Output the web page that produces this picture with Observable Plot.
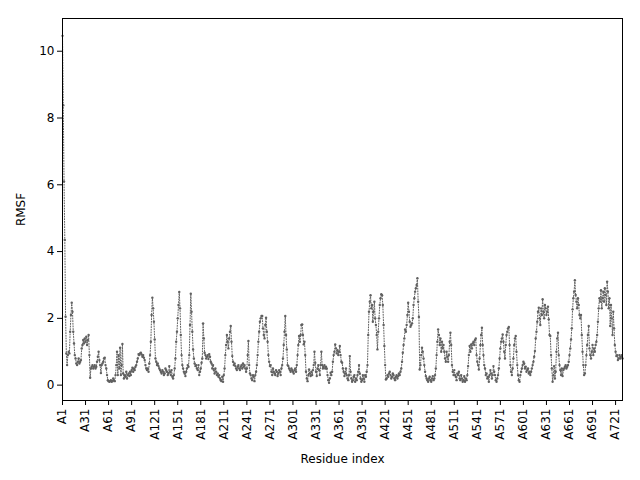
<!DOCTYPE html>
<html>
<head>
<meta charset="utf-8">
<script src="https://cdn.jsdelivr.net/npm/d3@7"></script>
<script src="https://cdn.jsdelivr.net/npm/@observablehq/plot@0.6"></script>
<style>
  html, body { margin: 0; padding: 0; background: white; }
</style>
</head>
<body>
<div id="chart"></div>
<script>
// RMSF per residue (A1 .. A730)
const rmsf = [
  10.46, 8.38, 6.1, 4.35, 2.05, 0.95, 0.6, 0.9, 1.0, 0.95,
  1.6, 2.1, 2.47, 2.2, 1.6, 1.25, 0.9, 0.8, 0.65, 0.6,
  0.7, 0.8, 0.65, 0.7, 0.75, 1.1, 1.2, 1.35, 1.25, 1.4,
  1.3, 1.45, 1.2, 1.35, 1.5, 0.9, 0.22, 0.5, 0.55, 0.6,
  0.5, 0.55, 0.6, 0.5, 0.55, 0.7, 0.85, 1.0, 0.75, 0.6,
  0.36, 0.6, 0.65, 0.7, 0.8, 0.82, 0.6, 0.5, 0.3, 0.15,
  0.12, 0.1, 0.12, 0.15, 0.1, 0.12, 0.2, 0.15, 0.12, 0.3,
  0.6, 1.0, 0.3, 0.9, 0.5, 1.12, 0.3, 0.6, 1.23, 0.35,
  0.2, 0.3, 0.25, 0.4, 0.2, 0.3, 0.35, 0.27, 0.4, 0.3,
  0.45, 0.52, 0.4, 0.5, 0.45, 0.55, 0.6, 0.7, 0.8, 0.93,
  0.9, 0.95, 0.97, 0.92, 0.85, 0.9, 0.82, 0.75, 0.6, 0.5,
  0.45, 0.5, 0.4, 0.65, 0.9, 1.3, 2.1, 2.62, 2.3, 1.9,
  1.37, 0.8, 0.7, 0.6, 0.65, 0.57, 0.5, 0.45, 0.4, 0.35,
  0.45, 0.4, 0.3, 0.35, 0.5, 0.45, 0.4, 0.3, 0.35, 0.57,
  0.4, 0.3, 0.45, 0.25, 0.2, 0.3, 0.5, 0.8, 1.3, 1.6,
  2.0, 2.4, 2.79, 2.3, 1.5, 0.9, 0.6, 0.5, 0.4, 0.35,
  0.27, 0.4, 0.5, 0.6, 0.55, 0.9, 1.8, 2.74, 2.2, 1.6,
  1.07, 0.8, 0.65, 0.57, 0.6, 0.5, 0.45, 0.6, 0.3, 0.4,
  0.5, 0.67, 0.8, 1.85, 1.4, 0.97, 0.9, 0.8, 0.85, 0.9,
  0.78, 0.93, 0.85, 0.7, 0.65, 0.5, 0.6, 0.45, 0.35, 0.5,
  0.4, 0.3, 0.35, 0.25, 0.3, 0.2, 0.15, 0.12, 0.25, 0.1,
  0.3, 0.5, 0.9, 1.2, 1.5, 1.3, 1.1, 1.4, 1.6, 1.77,
  1.3, 0.87, 0.7, 0.6, 0.65, 0.57, 0.5, 0.45, 0.55, 0.6,
  0.5, 0.45, 0.55, 0.6, 0.5, 0.65, 0.55, 0.6, 0.5, 0.4,
  0.5, 0.9, 1.32, 0.6, 0.35, 0.3, 0.2, 0.15, 0.3, 0.25,
  0.12, 0.3, 0.4, 0.6, 0.9, 1.3, 1.6, 1.9, 2.0, 2.07,
  2.07, 1.7, 1.5, 1.4, 1.8, 2.02, 1.6, 1.3, 0.9, 0.7,
  0.57, 0.6, 0.4, 0.3, 0.5, 0.4, 0.35, 0.3, 0.45, 0.4,
  0.27, 0.35, 0.45, 0.4, 0.3, 0.5, 0.6, 0.8, 1.2, 1.6,
  2.07, 1.5, 1.07, 0.6, 0.57, 0.5, 0.45, 0.4, 0.5, 0.45,
  0.4, 0.35, 0.45, 0.5, 0.4, 0.6, 0.9, 1.2, 1.47, 1.3,
  1.5, 1.8, 1.82, 1.5, 1.22, 1.3, 0.9, 0.4, 0.2, 0.12,
  0.3, 0.47, 0.35, 0.27, 0.4, 0.3, 0.45, 0.6, 1.0, 0.67,
  0.4, 0.27, 0.5, 0.6, 0.45, 0.3, 0.6, 1.0, 0.6, 0.5,
  0.55, 0.6, 0.5, 0.55, 0.5, 0.3, 0.15, 0.07, 0.2, 0.37,
  0.3, 0.4, 0.7, 0.9, 1.0, 1.22, 1.1, 0.95, 1.05, 0.9,
  1.0, 1.17, 0.9, 0.7, 0.67, 0.5, 0.4, 0.27, 0.35, 0.5,
  0.3, 0.2, 0.15, 0.3, 0.87, 0.4, 0.2, 0.1, 0.15, 0.25,
  0.3, 0.1, 0.2, 0.15, 0.3, 0.4, 0.6, 0.35, 0.2, 0.1,
  0.15, 0.3, 0.2, 0.1, 0.3, 0.25, 0.4, 0.6, 1.5, 2.2,
  2.5, 2.69, 2.3, 2.4, 1.9, 2.2, 2.5, 2.0, 1.8, 1.5,
  1.07, 1.6, 2.0, 2.4, 2.6, 2.72, 2.69, 2.4, 1.8, 1.17,
  0.6, 0.17, 0.2, 0.3, 0.25, 0.35, 0.4, 0.3, 0.2, 0.25,
  0.35, 0.3, 0.2, 0.15, 0.25, 0.3, 0.2, 0.27, 0.35, 0.3,
  0.4, 0.5, 0.7, 0.97, 1.2, 1.4, 1.67, 1.6, 1.8, 2.1,
  2.47, 2.2, 1.9, 1.75, 1.8, 1.85, 2.0, 2.4, 2.6, 2.8,
  2.9, 3.0, 3.2, 2.5, 2.04, 0.47, 0.6, 0.9, 1.12, 1.0,
  0.8, 0.6, 0.4, 0.27, 0.2, 0.15, 0.1, 0.2, 0.25, 0.15,
  0.1, 0.2, 0.27, 0.15, 0.2, 0.3, 0.5, 0.9, 1.3, 1.67,
  1.5, 1.2, 1.4, 1.0, 1.3, 1.1, 1.2, 1.0, 0.8, 0.7,
  1.0, 0.85, 0.7, 0.9, 1.3, 1.57, 1.2, 0.6, 0.4, 0.3,
  0.45, 0.3, 0.25, 0.15, 0.35, 0.3, 0.4, 0.2, 0.15, 0.3,
  0.2, 0.1, 0.15, 0.27, 0.1, 0.2, 0.15, 0.3, 0.57, 0.9,
  1.17, 1.0, 1.22, 1.1, 1.25, 1.3, 1.2, 1.35, 1.4, 0.9,
  0.7, 0.6, 0.47, 0.8, 1.2, 1.5, 1.72, 1.2, 0.9, 0.6,
  0.5, 0.3, 0.35, 0.2, 0.25, 0.1, 0.3, 0.45, 0.35, 0.2,
  0.3, 0.57, 0.4, 0.3, 0.15, 0.1, 0.2, 0.3, 0.5, 0.8,
  1.1, 1.3, 1.4, 1.52, 1.3, 1.0, 0.8, 1.2, 1.5, 1.6,
  1.7, 1.74, 1.2, 0.6, 0.4, 0.3, 0.5, 0.8, 1.2, 1.4,
  1.47, 1.0, 0.6, 0.3, 0.15, 0.1, 0.3, 0.4, 0.5, 0.6,
  0.7, 0.65, 0.5, 0.55, 0.4, 0.45, 0.5, 0.35, 0.4, 0.3,
  0.4, 0.5, 0.6, 0.7, 0.85, 1.02, 1.4, 1.6, 1.9, 2.2,
  2.32, 2.0, 1.8, 2.3, 2.1, 2.57, 2.2, 2.0, 2.4, 2.3,
  2.1, 2.2, 2.35, 1.97, 1.5, 1.47, 0.9, 0.5, 0.1, 0.3,
  0.57, 0.2, 0.4, 1.0, 1.4, 1.57, 0.9, 0.6, 0.45, 0.3,
  0.5, 0.27, 0.45, 0.5, 0.55, 0.6, 0.5, 0.55, 0.6, 0.7,
  0.9, 1.1, 1.37, 1.7, 2.27, 2.6, 2.8, 3.14, 2.7, 2.5,
  2.3, 2.6, 2.4, 2.1, 2.0, 2.1, 1.5, 1.0, 0.6, 0.3,
  0.35, 0.6, 0.9, 1.2, 1.5, 1.77, 1.1, 0.9, 0.8, 1.0,
  1.2, 0.9, 1.1, 1.0, 1.2, 1.3, 1.5, 1.9, 2.3, 2.6,
  2.5, 2.84, 2.3, 2.6, 2.8, 2.5, 2.9, 2.7, 2.4, 3.1,
  2.8, 2.3, 2.6, 1.77, 2.4, 2.0, 1.5, 2.2, 1.7, 1.2,
  1.0, 0.87, 0.9, 0.75, 0.8, 0.9, 0.8, 0.85, 0.9, 0.8
];
const residues = rmsf.map((_, i) => i + 1);
const xTicks = [1, 31, 61, 91, 121, 151, 181, 211, 241, 271, 301, 331, 361, 391, 421, 451, 481, 511, 541, 571, 601, 631, 661, 691, 721];
const yTicks = [0, 2, 4, 6, 8, 10];
const xLabel = "Residue index";
const yLabel = "RMSF";

const data = residues.map((r, i) => ({residue: r, rmsf: rmsf[i]}));
const color = "#606060";

const chart = Plot.plot({
  width: 640,
  height: 480,
  marginLeft: 62,
  marginRight: 18,
  marginTop: 18,
  marginBottom: 80,
  style: {fontFamily: "'DejaVu Sans', sans-serif", fontSize: "12px", background: "white", color: "black"},
  x: {domain: [1, 730]},
  y: {domain: [-0.46, 10.98]},
  marks: [
    Plot.line(data, {x: "residue", y: "rmsf", stroke: color, strokeWidth: 1, strokeDasharray: "1,1.65"}),
    Plot.dot(data, {x: "residue", y: "rmsf", r: 1.2, fill: color, stroke: "none"}),
    Plot.frame({stroke: "black", strokeWidth: 1}),
    Plot.axisX({ticks: xTicks, tickFormat: d => "A" + d, tickRotate: -90, tickSize: 5, tickPadding: 3,
      label: xLabel, labelAnchor: "center", labelArrow: "none", labelOffset: 62, fontSize: 12}),
    Plot.axisY({ticks: yTicks, tickSize: 5, tickPadding: 3,
      label: yLabel, labelAnchor: "center", labelArrow: "none", labelOffset: 46, fontSize: 12})
  ]
});
document.getElementById("chart").appendChild(chart);
</script>
</body>
</html>
